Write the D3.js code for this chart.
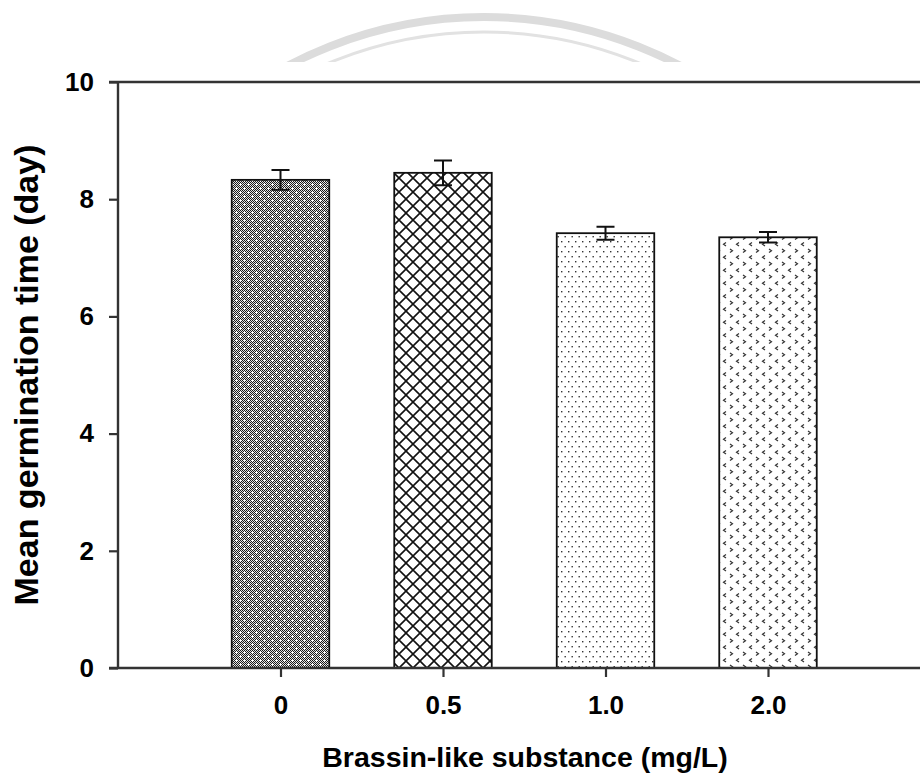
<!DOCTYPE html>
<html>
<head>
<meta charset="utf-8">
<script src="https://cdn.jsdelivr.net/npm/d3@7"></script>
<style>
  html, body { margin: 0; padding: 0; background: #fff; }
  svg { display: block; }
  text { font-family: "Liberation Sans", Arial, sans-serif; font-weight: bold; fill: #000; }
</style>
</head>
<body>
<svg id="chart" width="920" height="783"></svg>
<script>
// Brassin-like substance concentrations (mg/L)
const categories = ["0", "0.5", "1.0", "2.0"];
// Mean germination time (day)
const meanValues = [8.33, 8.45, 7.42, 7.35];
// Standard error
const errorValues = [0.17, 0.21, 0.11, 0.09];
const yTicks = [0, 2, 4, 6, 8, 10];
const patternIds = ["pat-dense", "pat-cross", "pat-dots", "pat-chevron"];

const svg = d3.select("#chart");
const W = 920, H = 783;
const margin = { left: 118, top: 82, bottom: 115 };
const plotRight = 930.5;

const x = d3.scalePoint().domain(categories).range([margin.left, plotRight]).padding(1);
const y = d3.scaleLinear().domain([0, 10]).range([H - margin.bottom, margin.top]);
const barW = x.step() * 0.6;

// faint circular seal in the page background
const defs = svg.append("defs");
defs.append("clipPath").attr("id", "seal-clip")
  .append("rect").attr("x", 0).attr("y", 0).attr("width", W).attr("height", 62);
const seal = svg.append("g").attr("clip-path", "url(#seal-clip)");
seal.append("circle").attr("cx", 484).attr("cy", 436).attr("r", 419)
  .attr("fill", "none").attr("stroke", "#dcdcdc").attr("stroke-width", 8);
seal.append("circle").attr("cx", 484).attr("cy", 436).attr("r", 404)
  .attr("fill", "none").attr("stroke", "#e2e2e2").attr("stroke-width", 3);

// fill patterns for the four bars
// 1) dense grey checker with white specks
{
  const p = defs.append("pattern").attr("id", patternIds[0])
    .attr("patternUnits", "userSpaceOnUse").attr("width", 8).attr("height", 8);
  p.append("rect").attr("width", 8).attr("height", 8).attr("fill", "#e0e0e0");
  const cells = [];
  for (let i = 0; i < 8; i++) for (let j = 0; j < 8; j++) if ((i + j) % 2 === 0) cells.push([i, j]);
  p.selectAll("rect.c").data(cells).join("rect").attr("class", "c")
    .attr("x", d => d[0]).attr("y", d => d[1]).attr("width", 1).attr("height", 1).attr("fill", "#1a1a1a");
  const specks = [[0, 0], [4, 4]];
  specks.forEach(([cx, cy]) => {
    [[0, 0], [1, 0], [-1, 0], [0, 1], [0, -1]].forEach(([dx, dy]) => {
      p.append("rect").attr("x", (cx + dx + 8) % 8).attr("y", (cy + dy + 8) % 8)
        .attr("width", 1).attr("height", 1).attr("fill", "#fff");
    });
  });
}
// 2) diagonal crosshatch
{
  const s = 14;
  const p = defs.append("pattern").attr("id", patternIds[1])
    .attr("patternUnits", "userSpaceOnUse").attr("width", s).attr("height", s)
    .attr("x", 0).attr("y", 3);
  p.append("rect").attr("width", s).attr("height", s).attr("fill", "#fff");
  p.append("path")
    .attr("d", `M-2,-2L${s + 2},${s + 2}M${s + 2},-2L-2,${s + 2}`)
    .attr("stroke", "#111").attr("stroke-width", 1.6).attr("fill", "none");
}
// 3) sparse dots
{
  const p = defs.append("pattern").attr("id", patternIds[2])
    .attr("patternUnits", "userSpaceOnUse").attr("width", 7).attr("height", 10);
  p.append("rect").attr("width", 7).attr("height", 10).attr("fill", "#fff");
  p.append("rect").attr("x", 1).attr("y", 1).attr("width", 1.4).attr("height", 1.4).attr("fill", "#333");
  p.append("rect").attr("x", 4.5).attr("y", 6).attr("width", 1.4).attr("height", 1.4).attr("fill", "#333");
}
// 4) rows of small chevrons
{
  const p = defs.append("pattern").attr("id", patternIds[3])
    .attr("patternUnits", "userSpaceOnUse").attr("width", 13).attr("height", 13);
  p.append("rect").attr("width", 13).attr("height", 13).attr("fill", "#fff");
  p.append("path").attr("d", "M2,2L4.5,3.8L2,5.6")
    .attr("stroke", "#333").attr("stroke-width", 1.2).attr("fill", "none");
  p.append("path").attr("d", "M11,8.5L8.5,10.3L11,12.1")
    .attr("stroke", "#333").attr("stroke-width", 1.2).attr("fill", "none");
}

// bars
const bars = categories.map((c, i) => ({ c, v: meanValues[i], e: errorValues[i], pat: patternIds[i] }));
svg.append("g").selectAll("rect").data(bars).join("rect")
  .attr("x", d => x(d.c) - barW / 2)
  .attr("y", d => y(d.v))
  .attr("width", barW)
  .attr("height", d => y(0) - y(d.v))
  .attr("fill", d => `url(#${d.pat})`)
  .attr("stroke", "#111").attr("stroke-width", 1.8);

// error bars
const capHalf = 9;
const eb = svg.append("g").attr("stroke", "#111").attr("stroke-width", 2).attr("fill", "none");
eb.selectAll("path").data(bars).join("path")
  .attr("d", d => {
    const cx = x(d.c), t = y(d.v + d.e), b = y(d.v - d.e);
    return `M${cx - capHalf},${t}H${cx + capHalf}M${cx},${t}V${b}M${cx - capHalf},${b}H${cx + capHalf}`;
  });

// axes
const axisColor = "#333";
const yAxis = svg.append("g").attr("transform", `translate(${margin.left},0)`)
  .call(d3.axisLeft(y).tickValues(yTicks).tickSize(9).tickPadding(15).tickFormat(d3.format("d")));
const xAxis = svg.append("g").attr("transform", `translate(0,${y(0)})`)
  .call(d3.axisBottom(x).tickSize(9).tickPadding(19));
[yAxis, xAxis].forEach(g => {
  g.select(".domain").remove();
  g.selectAll(".tick line").attr("stroke", axisColor).attr("stroke-width", 2.2);
  g.selectAll(".tick text").style("font-size", "26px").style("font-family", '"Liberation Sans", Arial, sans-serif')
    .style("font-weight", "bold").attr("fill", "#000");
});

// frame lines: left, bottom and top
const frame = svg.append("g").attr("stroke", axisColor).attr("stroke-width", 2.4);
frame.append("line").attr("x1", margin.left).attr("x2", margin.left).attr("y1", y(10)).attr("y2", y(0));
frame.append("line").attr("x1", margin.left - 9).attr("x2", W).attr("y1", y(0)).attr("y2", y(0));
frame.append("line").attr("x1", margin.left - 9).attr("x2", W).attr("y1", y(10)).attr("y2", y(10));

// axis titles
svg.append("text").attr("x", 525).attr("y", 767).attr("text-anchor", "middle")
  .style("font-size", "28.5px").text("Brassin-like substance (mg/L)");
svg.append("text").attr("transform", `translate(38,${(y(0) + y(10)) / 2}) rotate(-90)`)
  .attr("text-anchor", "middle").style("font-size", "34px").text("Mean germination time (day)");
</script>
</body>
</html>
